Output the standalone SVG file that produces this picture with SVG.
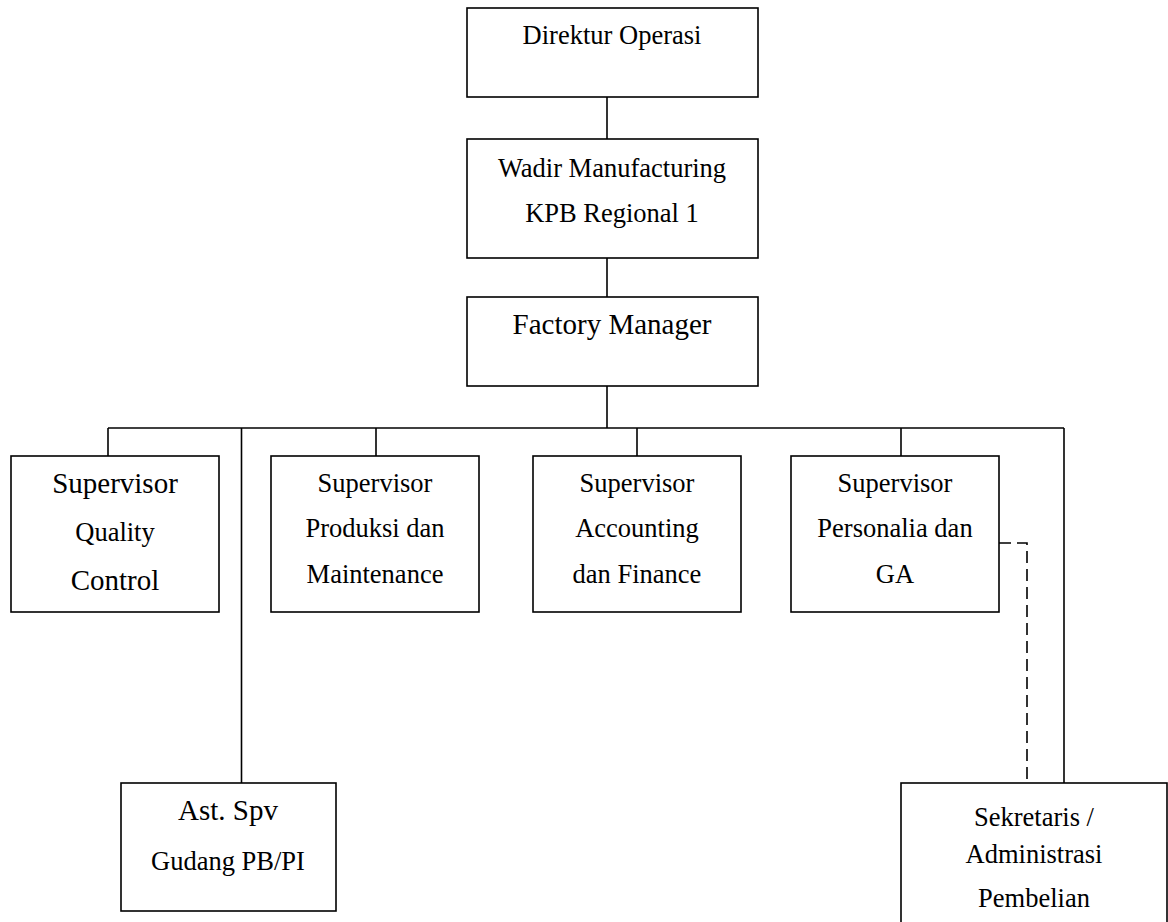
<svg xmlns="http://www.w3.org/2000/svg" width="1168" height="922" viewBox="0 0 1168 922">
<style>
.n{fill:#fff;stroke:#000;stroke-width:1.6}
line,path{fill:none;stroke:#000;stroke-width:1.6}
.d{stroke-dasharray:12 6}
text{font-family:"Liberation Serif","Times New Roman",serif;font-size:26.5px;fill:#000;text-anchor:middle}
.b{font-size:29px}
</style>
<rect width="1168" height="922" fill="#fff"/>
<g id="connectors">
<line x1="607" y1="97" x2="607" y2="139"/>
<line x1="607" y1="258" x2="607" y2="297"/>
<line x1="607" y1="386" x2="607" y2="428"/>
<line x1="108" y1="428" x2="1064" y2="428"/>
<line x1="108" y1="428" x2="108" y2="456"/>
<line x1="376" y1="428" x2="376" y2="456"/>
<line x1="637" y1="428" x2="637" y2="456"/>
<line x1="901" y1="428" x2="901" y2="456"/>
<line x1="241.5" y1="428" x2="241.5" y2="783"/>
<line x1="1064" y1="428" x2="1064" y2="783"/>
<path class="d" d="M999 543 H1027 V783"/>
</g>
<g id="direktur"><rect class="n" x="467" y="8" width="291" height="89"/><text x="612" y="44">Direktur Operasi</text></g>
<g id="wadir"><rect class="n" x="467" y="139" width="291" height="119"/><text x="612" y="177">Wadir Manufacturing</text><text x="612" y="222">KPB Regional 1</text></g>
<g id="factory"><rect class="n" x="467" y="297" width="291" height="89"/><text x="612" y="334" class="b">Factory Manager</text></g>
<g id="qc"><rect class="n" x="11" y="456" width="208" height="156"/><text x="115" y="493" class="b">Supervisor</text><text x="115" y="541">Quality</text><text x="115" y="590" class="b">Control</text></g>
<g id="produksi"><rect class="n" x="271" y="456" width="208" height="156"/><text x="375" y="492">Supervisor</text><text x="375" y="537">Produksi dan</text><text x="375" y="583">Maintenance</text></g>
<g id="accounting"><rect class="n" x="533" y="456" width="208" height="156"/><text x="637" y="492">Supervisor</text><text x="637" y="537">Accounting</text><text x="637" y="583">dan Finance</text></g>
<g id="personalia"><rect class="n" x="791" y="456" width="208" height="156"/><text x="895" y="492">Supervisor</text><text x="895" y="537">Personalia dan</text><text x="895" y="583">GA</text></g>
<g id="astspv"><rect class="n" x="121" y="783" width="215" height="128"/><text x="228" y="820" class="b">Ast. Spv</text><text x="228" y="870">Gudang PB/PI</text></g>
<g id="sekretaris"><rect class="n" x="901" y="783" width="266" height="150"/><text x="1034" y="826">Sekretaris /</text><text x="1034" y="863">Administrasi</text><text x="1034" y="907">Pembelian</text></g>
</svg>
